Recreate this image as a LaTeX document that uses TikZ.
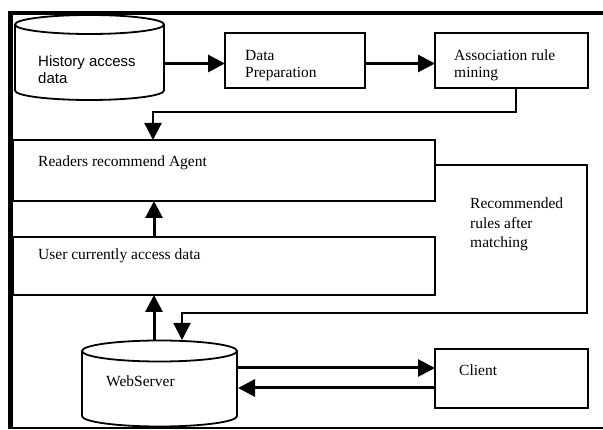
\documentclass[tikz,border=0pt]{standalone}
\usepackage{fontspec}
\setmainfont{Liberation Serif}
\newfontfamily\arialf{Liberation Sans}
\usetikzlibrary{arrows.meta}
\begin{document}
\begin{tikzpicture}[x=1pt,y=-1pt,
  box/.style={draw,line width=1.8pt,minimum width=#1,inner sep=0pt,outer sep=0pt},
  ghost/.style={inner sep=0pt,outer sep=0pt},
  txt/.style={anchor=base west,inner sep=0pt,align=left,font=\fontsize{15.5}{17}\selectfont},
  arr/.style={line width=3pt,-{Triangle[length=17pt,width=17pt]}},
  conn/.style={line width=2.3pt},
  connarr/.style={line width=2.3pt,-{Triangle[length=17pt,width=17pt]}},
  cyl/.style={line width=1.8pt}]
\useasboundingbox (0,0) rectangle (603,430);
% frame
\draw[line width=4pt] (8,13) -- (603,13);
\draw[line width=5pt] (10.5,11) -- (10.5,428);
\draw[line width=1.5pt] (8,428) -- (603,428);
% history cylinder
\node[ghost,minimum width=149pt,minimum height=85pt] (hist) at (89.5,57.5) {};
\draw[cyl,fill=white] (15,24.5) -- (15,90.5) arc[start angle=180,end angle=360,x radius=74.5pt,y radius=9.5pt] -- (164,24.5);
\draw[cyl] (89.5,24.5) ellipse[x radius=74.5pt,y radius=9.5pt];
\node[txt,font=\arialf\fontsize{15}{17.5}\selectfont] (histt) at (38,84) {History access\\data};
% boxes
\node[box=140pt,minimum height=55pt] (dp) at (295,60.5) {};
\node[txt] (dpt) at (245,78) {Data\\Preparation};
\node[box=153pt,minimum height=55pt] (arm) at (511.5,60.5) {};
\node[txt] (armt) at (454,78) {Association rule\\mining};
\node[box=422pt,minimum height=61pt] (readers) at (224,170.5) {};
\node[txt] (readerst) at (38,166.5) {Readers recommend Agent};
\node[box=422pt,minimum height=58pt] (user) at (224,266) {};
\node[txt] (usert) at (38,260) {User currently access data};
\node[box=153pt,minimum height=59pt] (client) at (511.5,378.5) {};
\node[txt] (clientt) at (459,376) {Client};
\node[txt,font=\fontsize{15.5}{19.5}\selectfont] (rect) at (470,248) {Recommended\\rules after\\matching};
% web cylinder
\node[ghost,minimum width=155pt,minimum height=87pt] (web) at (159.5,383.5) {};
\draw[cyl,fill=white] (82,351) -- (82,416) arc[start angle=180,end angle=360,x radius=77.5pt,y radius=10.5pt] -- (237,351);
\draw[cyl] (159.5,351) ellipse[x radius=77.5pt,y radius=10.5pt];
\node[txt] (webt) at (106,387) {WebServer};
% connectors
\path ([yshift=-3pt]dp.west) coordinate (c0);
\draw[arr] (hist.east |- c0) -- (c0);
\draw[arr] ([yshift=-3pt]dp.east) -- ([yshift=-3pt]arm.west);
\draw[connarr] ([xshift=4.5pt]arm.south) -- ++(0,24) -| ([xshift=-71pt]readers.north);
\draw[arr] ([xshift=-70pt]user.north) -- ([xshift=-70pt]readers.south);
\draw[arr] ([xshift=-5.5pt]web.north) -- ([xshift=-70pt]user.south);
\draw[connarr] ([yshift=5.5pt]readers.east) -- ++(152,0) -- ++(0,148) -| ([xshift=22.5pt]web.north);
\path ([yshift=10.5pt]client.west) coordinate (c1) ([yshift=-9.5pt]client.west) coordinate (c2);
\draw[arr] (web.east |- c1) -- (c1);
\draw[arr] (c2) -- ([xshift=1pt]web.east |- c2);
\end{tikzpicture}
\end{document}
